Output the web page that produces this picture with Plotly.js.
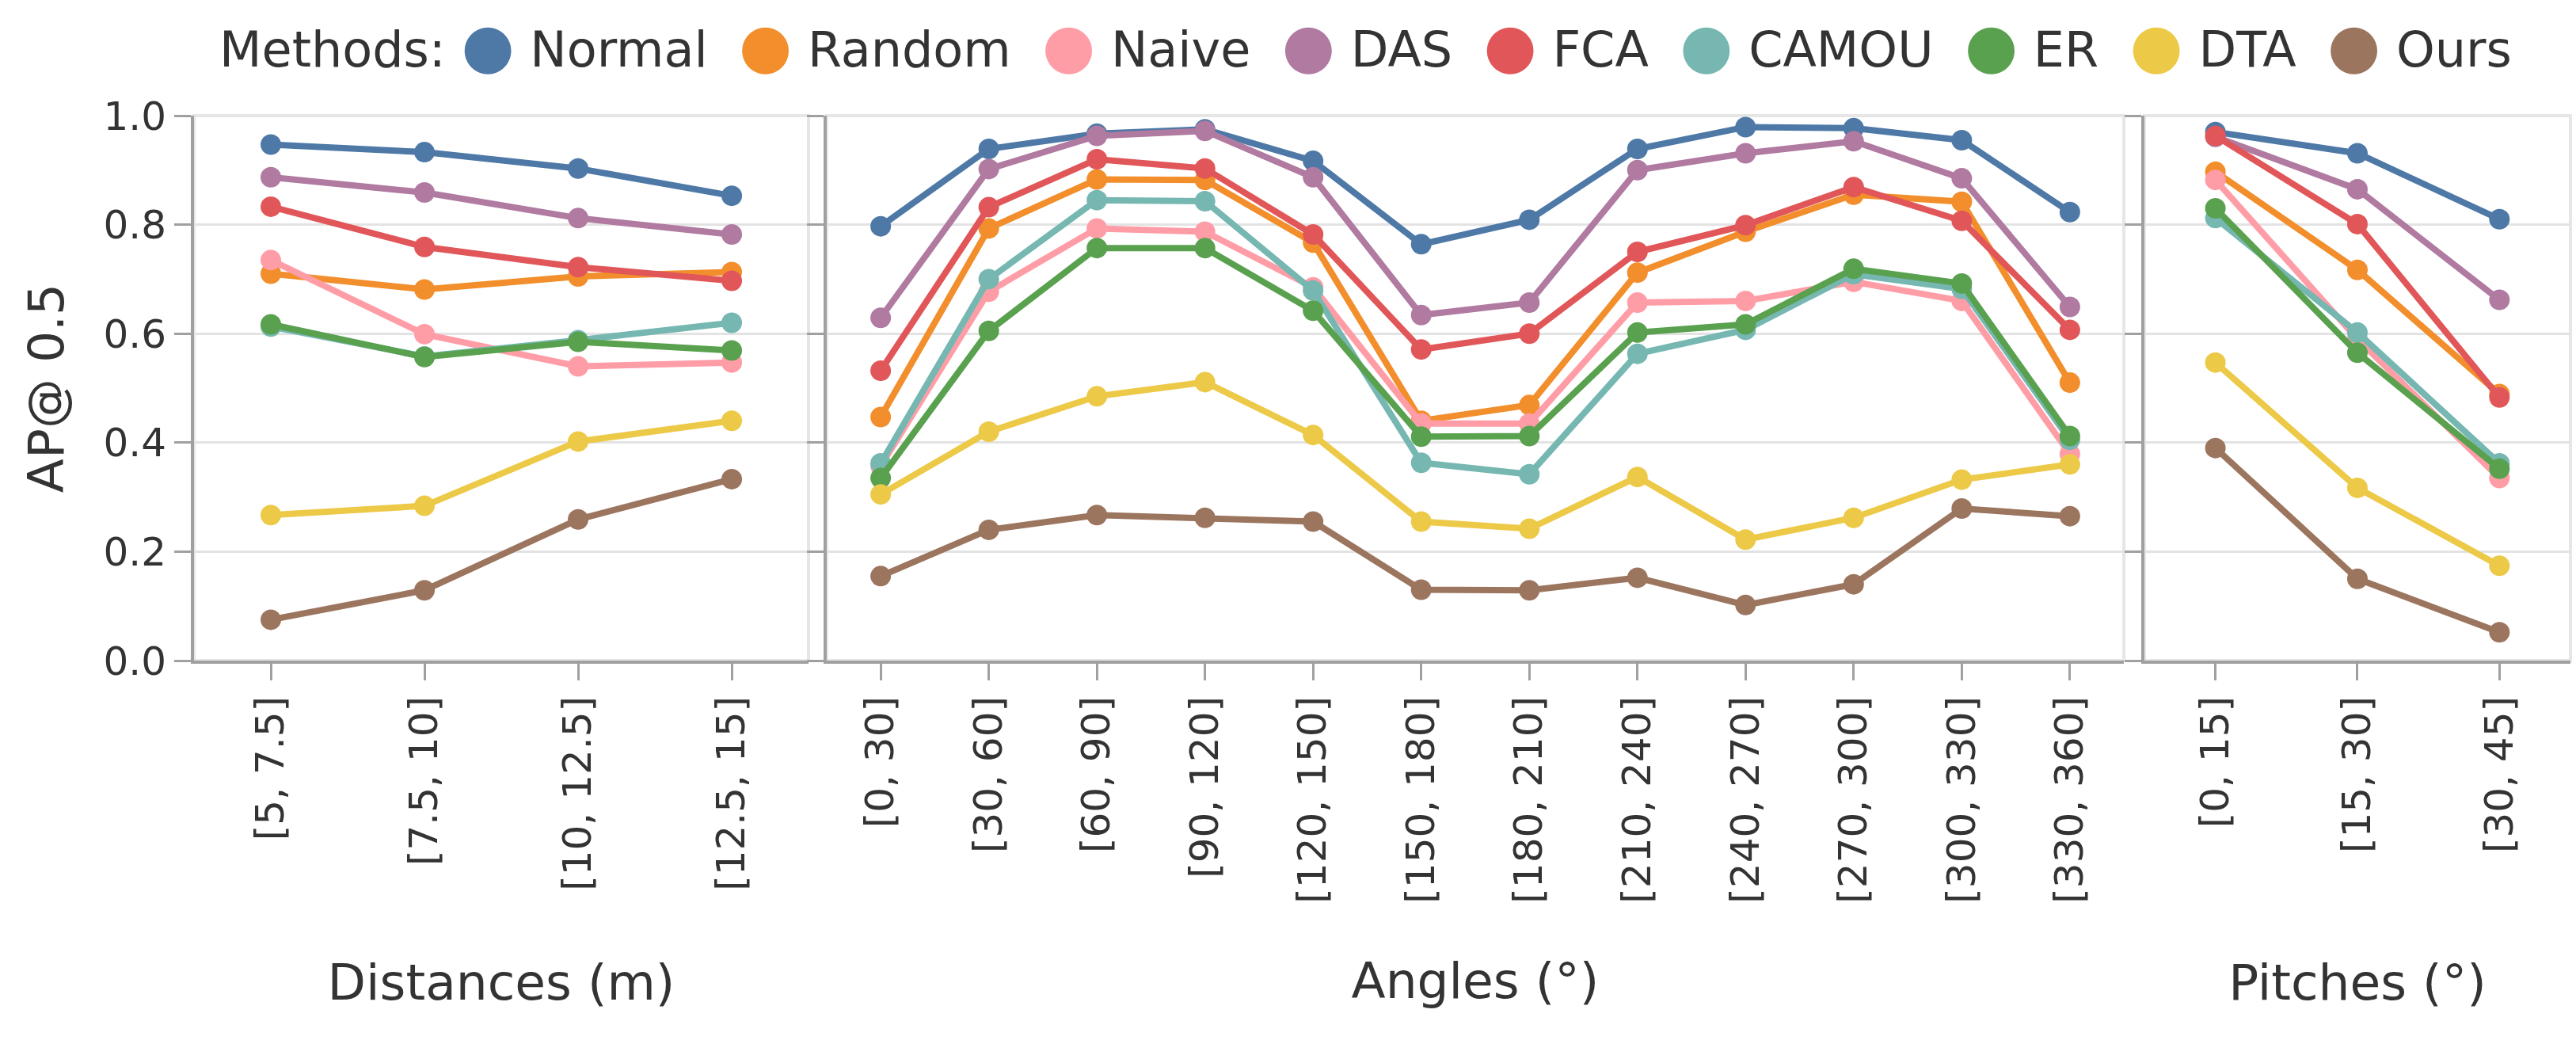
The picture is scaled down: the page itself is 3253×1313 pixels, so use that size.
<!DOCTYPE html>
<html>
<head>
<meta charset="utf-8">
<script src="https://cdn.plot.ly/plotly-3.0.1.min.js"></script>
<style>
  html, body { margin: 0; padding: 0; background: #fff; }
  #myDiv { width: 3253px; height: 1313px; }
</style>
</head>
<body>
<div id="myDiv"></div>
<script>
// categories
var distCats = ['[5, 7.5]', '[7.5, 10]', '[10, 12.5]', '[12.5, 15]'];
var angleCats = ['[0, 30]', '[30, 60]', '[60, 90]', '[90, 120]', '[120, 150]', '[150, 180]',
	'[180, 210]', '[210, 240]', '[240, 270]', '[270, 300]', '[300, 330]', '[330, 360]'];
var pitchCats = ['[0, 15]', '[15, 30]', '[30, 45]'];

var methods = ['Normal', 'Random', 'Naive', 'DAS', 'FCA', 'CAMOU', 'ER', 'DTA', 'Ours'];
var colors = ['#4e79a7', '#f28e2b', '#ff9da7', '#b07aa1', '#e15759', '#76b7b2', '#59a14f', '#edc948', '#9c755f'];

// AP@0.5, one row per method (same order as methods)
var distAP = [
	[0.947, 0.933, 0.903, 0.853],
	[0.710, 0.681, 0.705, 0.713],
	[0.735, 0.599, 0.540, 0.547],
	[0.887, 0.859, 0.812, 0.782],
	[0.833, 0.759, 0.722, 0.697],
	[0.613, 0.558, 0.588, 0.620],
	[0.617, 0.557, 0.585, 0.569],
	[0.267, 0.284, 0.402, 0.440],
	[0.075, 0.129, 0.259, 0.333]
];
var angleAP = [
	[0.797, 0.939, 0.967, 0.975, 0.917, 0.764, 0.809, 0.939, 0.979, 0.977, 0.955, 0.823],
	[0.447, 0.793, 0.883, 0.882, 0.767, 0.440, 0.469, 0.712, 0.787, 0.855, 0.842, 0.510],
	[0.357, 0.677, 0.793, 0.787, 0.685, 0.435, 0.435, 0.657, 0.660, 0.695, 0.660, 0.379],
	[0.629, 0.902, 0.963, 0.972, 0.887, 0.634, 0.657, 0.900, 0.931, 0.953, 0.885, 0.649],
	[0.532, 0.832, 0.920, 0.903, 0.782, 0.571, 0.600, 0.750, 0.799, 0.869, 0.807, 0.607],
	[0.362, 0.700, 0.845, 0.843, 0.679, 0.363, 0.342, 0.563, 0.607, 0.709, 0.682, 0.405],
	[0.335, 0.605, 0.757, 0.757, 0.642, 0.411, 0.412, 0.602, 0.617, 0.719, 0.692, 0.412],
	[0.305, 0.420, 0.485, 0.511, 0.414, 0.255, 0.242, 0.337, 0.222, 0.262, 0.332, 0.360],
	[0.155, 0.240, 0.267, 0.262, 0.255, 0.130, 0.129, 0.152, 0.102, 0.140, 0.279, 0.265]
];
var pitchAP = [
	[0.970, 0.931, 0.810],
	[0.897, 0.717, 0.489],
	[0.882, 0.590, 0.335],
	[0.961, 0.865, 0.662],
	[0.963, 0.801, 0.483],
	[0.812, 0.602, 0.362],
	[0.830, 0.565, 0.352],
	[0.547, 0.317, 0.174],
	[0.390, 0.150, 0.052]
];

var panels = [
	{cats: distCats, vals: distAP, x: 'x', y: 'y'},
	{cats: angleCats, vals: angleAP, x: 'x2', y: 'y2'},
	{cats: pitchCats, vals: pitchAP, x: 'x3', y: 'y3'}
];

var data = [];
for (var p in panels){
	for (var m in methods){
		data.push({
			x: panels[p].cats,
			y: panels[p].vals[m],
			xaxis: panels[p].x,
			yaxis: panels[p].y,
			name: methods[m],
			type: 'scatter',
			mode: 'lines+markers',
			line: {color: colors[m], width: 8},
			marker: {color: colors[m], size: 26},
			showlegend: false,
			hoverinfo: 'x+y+name'
		});
	}
}

var txtColor = '#333333';
var fontFam = '"DejaVu Sans", Verdana, sans-serif';

function xAxis(cats, domain, title, standoff){
	return {
		domain: domain,
		type: 'category',
		categoryarray: cats,
		range: [-0.5, cats.length - 0.5],
		showgrid: false,
		zeroline: false,
		showline: true,
		linecolor: '#a0a0a0',
		linewidth: 4,
		ticks: 'outside',
		ticklen: 21,
		tickwidth: 3,
		tickcolor: '#a0a0a0',
		tickangle: -90,
		tickfont: {size: 50, color: txtColor},
		title: {text: title, font: {size: 63, color: txtColor}, standoff: standoff}
	};
}
function yAxis(anchor, labels){
	return {
		anchor: anchor,
		domain: [0, 1],
		range: [0, 1],
		dtick: 0.2,
		tickformat: '.1f',
		showgrid: true,
		gridcolor: '#e3e3e3',
		gridwidth: 3,
		zeroline: false,
		showline: true,
		linecolor: '#a0a0a0',
		linewidth: 4,
		ticks: 'outside',
		ticklen: 21,
		tickwidth: 3,
		tickcolor: '#a0a0a0',
		showticklabels: labels,
		tickfont: {size: 50, color: txtColor}
	};
}

// light frame around every panel
var frames = [];
var refs = [['x', 'y'], ['x2', 'y2'], ['x3', 'y3']];
for (var r in refs){
	frames.push({
		type: 'rect', layer: 'below',
		xref: refs[r][0] + ' domain', yref: refs[r][1] + ' domain',
		x0: 0, x1: 1, y0: 0, y1: 1,
		line: {color: '#e6e6e6', width: 4}
	});
}

// legend row drawn as text
var legendText = 'Methods:';
for (var k in methods){
	legendText += ' <span style="color:' + colors[k] + ';font-size:77px">\u25CF</span> ' + methods[k] + ' ';
}

var layout = {
	width: 3253,
	height: 1313,
	paper_bgcolor: '#ffffff',
	plot_bgcolor: '#ffffff',
	font: {family: fontFam, color: txtColor, size: 50},
	margin: {l: 245, r: 7, t: 146, b: 479, pad: 0},
	showlegend: false,
	xaxis: xAxis(distCats, [0, 0.2586], 'Distances (m)', 95),
	xaxis2: xAxis(angleCats, [0.2662, 0.8121], 'Angles (\u00B0)', 77),
	xaxis3: xAxis(pitchCats, [0.8207, 1], 'Pitches (\u00B0)', 143),
	yaxis: Object.assign(yAxis('x', true), {title: {text: 'AP@ 0.5', font: {size: 63, color: txtColor}, standoff: 30}}),
	yaxis2: yAxis('x2', false),
	yaxis3: yAxis('x3', false),
	shapes: frames,
	annotations: [{
		xref: 'paper', yref: 'paper',
		x: 0.4965, y: 1.129,
		xanchor: 'center', yanchor: 'middle',
		showarrow: false,
		text: legendText,
		font: {size: 62, color: txtColor}
	}]
};

Plotly.newPlot('myDiv', data, layout, {displayModeBar: false, responsive: false});
</script>
</body>
</html>
